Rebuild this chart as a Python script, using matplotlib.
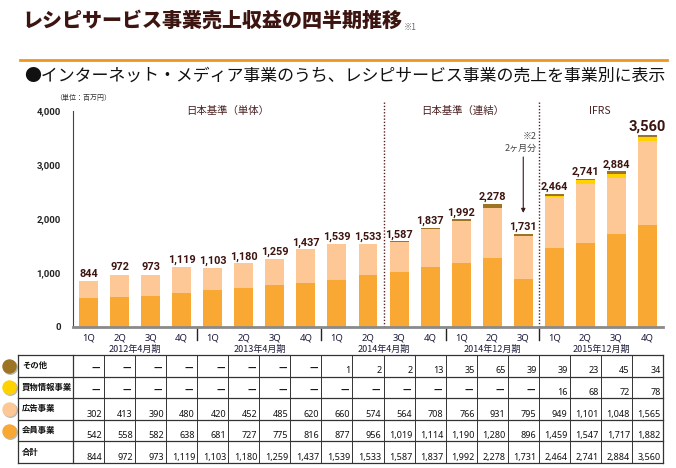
import matplotlib
matplotlib.use("Agg")
from matplotlib import pyplot as plt
import numpy as np

plt.rcParams['font.family'] = ['Noto Sans CJK JP', 'DejaVu Sans']

# data
quarters = ["1Q", "2Q", "3Q", "4Q", "1Q", "2Q", "3Q", "4Q", "1Q", "2Q",
            "3Q", "4Q", "1Q", "2Q", "3Q", "1Q", "2Q", "3Q", "4Q"]
periods = ["2012年4月期", "2013年4月期", "2014年4月期", "2014年12月期", "2015年12月期"]
period_sizes = [4, 4, 4, 3, 4]
member = [542, 558, 582, 638, 681, 727, 775, 816, 877, 956, 1019, 1114,
          1190, 1280, 896, 1459, 1547, 1717, 1882]
ad = [302, 413, 390, 480, 420, 452, 485, 620, 660, 574, 564, 708,
      766, 931, 795, 949, 1101, 1048, 1565]
shopping = [None] * 15 + [16, 68, 72, 78]
other = [None] * 8 + [1, 2, 2, 13, 35, 65, 39, 39, 23, 45, 34]
total = [844, 972, 973, 1119, 1103, 1180, 1259, 1437, 1539, 1533, 1587,
         1837, 1992, 2278, 1731, 2464, 2741, 2884, 3560]
sections = ["日本基準（単体）", "日本基準（連結）", "IFRS"]

c_member = "#f9a834"
c_ad = "#fec796"
c_shop = "#ffd200"
c_other = "#9c7424"
brown = "#3c1410"
num_font = ["Roboto", "DejaVu Sans"]

W, H = 676, 468
fig = plt.figure(figsize=(W / 100, H / 100), dpi=100)


def fx(x):
    return x / W


def fy(y):
    return 1 - y / H


# overlay in pixel coordinates for the slide decoration
ov = fig.add_axes([0, 0, 1, 1])
ov.set_xlim(0, W)
ov.set_ylim(H, 0)
ov.axis("off")

fig.text(fx(22), fy(21), "レシピサービス事業売上収益の四半期推移", fontsize=14.4,
         fontweight="black", color=brown, va="center", ha="left")
fig.text(fx(404), fy(27), "※1", fontsize=6, color="#666666", va="center")
ov.plot([20, 667], [60, 60], color="#f0961e", lw=2)
fig.text(fx(24), fy(76), "●インターネット・メディア事業のうち、レシピサービス事業の売上を事業別に表示",
         fontsize=12.2, color="#111111", va="center", ha="left")
fig.text(fx(55), fy(98), "（単位：百万円）", fontsize=5, color="#333333", va="center")

# main bar chart
x0, x1, ytop, ybot = 73, 663, 100.2, 327
ax = fig.add_axes([fx(x0), fy(ybot), fx(x1) - fx(x0), (ybot - ytop) / H])
x = np.arange(len(total))
m = np.array(member, float)
a = np.array(ad, float)
s = np.array([v or 0 for v in shopping], float)
o = np.array([v or 0 for v in other], float)
bw = 0.61
ax.bar(x, m, bw, color=c_member)
ax.bar(x, a, bw, bottom=m, color=c_ad)
ax.bar(x, s, bw, bottom=m + a, color=c_shop)
ax.bar(x, o, bw, bottom=m + a + s, color=c_other)

for i, t in enumerate(total):
    big = i == len(total) - 1
    ax.text(i, t + 75, f"{t:,}", ha="center", va="baseline",
            fontsize=10.5 if big else 7.8, fontweight="bold", color=brown,
            family=num_font)

ax.set_xlim(-0.5, len(total) - 0.5)
ax.set_ylim(0, 4200)
ax.set_yticks([0, 1000, 2000, 3000, 4000])
ax.set_yticklabels(["0", "1,000", "2,000", "3,000", "4,000"], fontsize=6.8,
                   fontweight="bold", color="#222222", family=num_font)
ax.tick_params(axis="y", length=0, pad=9)
ax.set_xticks(x)
ax.set_xticklabels(quarters, fontsize=6.8, color="#1a1a3a",
                   family=["Noto Sans", "DejaVu Sans"])
ax.tick_params(axis="x", length=0, pad=5)
for sp in ["top", "right"]:
    ax.spines[sp].set_visible(False)
ax.spines["left"].set_bounds(0, 4000)
ax.spines["left"].set_color("#444444")
ax.spines["bottom"].set_color("#8a8a8a")
ax.spines["bottom"].set_linewidth(2)

# section borders and group separators
for b in [9.5, 14.5]:
    ax.plot([b, b], [0, 4190], ls=(0, (1, 1.3)), color="#5a2020", lw=1,
            clip_on=False)
edges = np.cumsum(period_sizes)
for e in edges[:-1]:
    ax.plot([e - 0.5, e - 0.5], [0, -240], color="#222222", lw=1,
            clip_on=False)
starts = np.concatenate([[0], edges[:-1]])
for p, st, n in zip(periods, starts, period_sizes):
    ax.text(st + (n - 1) / 2, -420, p, ha="center", va="center", fontsize=6.5,
            color="#1a1a3a")

for lbl, xc in zip(sections, [4.49, 12.06, 16.47]):
    ax.text(xc, 4000, lbl, ha="center", va="center", fontsize=7.5,
            color="#4a2020")

ax.text(14.44, 3520, "※2", ha="right", va="center", fontsize=6.5,
        color="#444444")
ax.text(14.44, 3310, "2ヶ月分", ha="right", va="center", fontsize=6.5,
        color="#444444")
ax.annotate("", xy=(14, total[14] + 330), xytext=(14, 3200),
            arrowprops=dict(arrowstyle="-|>", color="#3a1a1a", lw=0.8,
                            mutation_scale=6))

# data table below
t_top, t_bot = 355, 463
tab = fig.add_axes([fx(x0), fy(t_bot), fx(x1) - fx(x0), (t_bot - t_top) / H])
tab.set_xlim(-0.5, len(total) - 0.5)
tab.set_ylim(5, 0)
tab.axis("off")
left = -0.5 - (x0 - 18) / 31.05
rows = [("その他", other, c_other), ("買物情報事業", shopping, c_shop),
        ("広告事業", ad, c_ad), ("会員事業", member, c_member),
        ("合計", total, None)]
lc = "#333333"
for r in range(6):
    tab.plot([left, 18.5], [r, r], color=lc, lw=0.9, clip_on=False)
tab.plot([left, left], [0, 5], color=lc, lw=0.9, clip_on=False)
for c in range(20):
    tab.plot([c - 0.5, c - 0.5], [0, 5], color=lc, lw=0.9 if c in (0, 19) else 0.7,
             clip_on=False)

for r, (name, vals, col) in enumerate(rows):
    tab.text(left + 0.13, r + 0.5, name, ha="left", va="center", fontsize=6,
             fontweight="bold", color="#111111", clip_on=False)
    for i, v in enumerate(vals):
        if v is None:
            tab.text(i + 0.38, r + 0.62, "—", ha="right", va="center",
                     fontsize=6, fontweight="bold", color="#111111",
                     family=["DejaVu Sans"])
        else:
            tab.text(i + 0.43, r + 0.85, f"{v:,}", ha="right", va="baseline",
                     fontsize=6.5, color="#111111",
                     family=["Noto Sans", "DejaVu Sans"])
    if col is not None:
        cy = t_top + (r + 0.5) * (t_bot - t_top) / 5
        ov.scatter([10], [cy + 1], s=95, color="#bbbbbb", zorder=2)
        ov.scatter([9], [cy], s=88, color=col, zorder=3)

fig.savefig("out.png", dpi=100)
